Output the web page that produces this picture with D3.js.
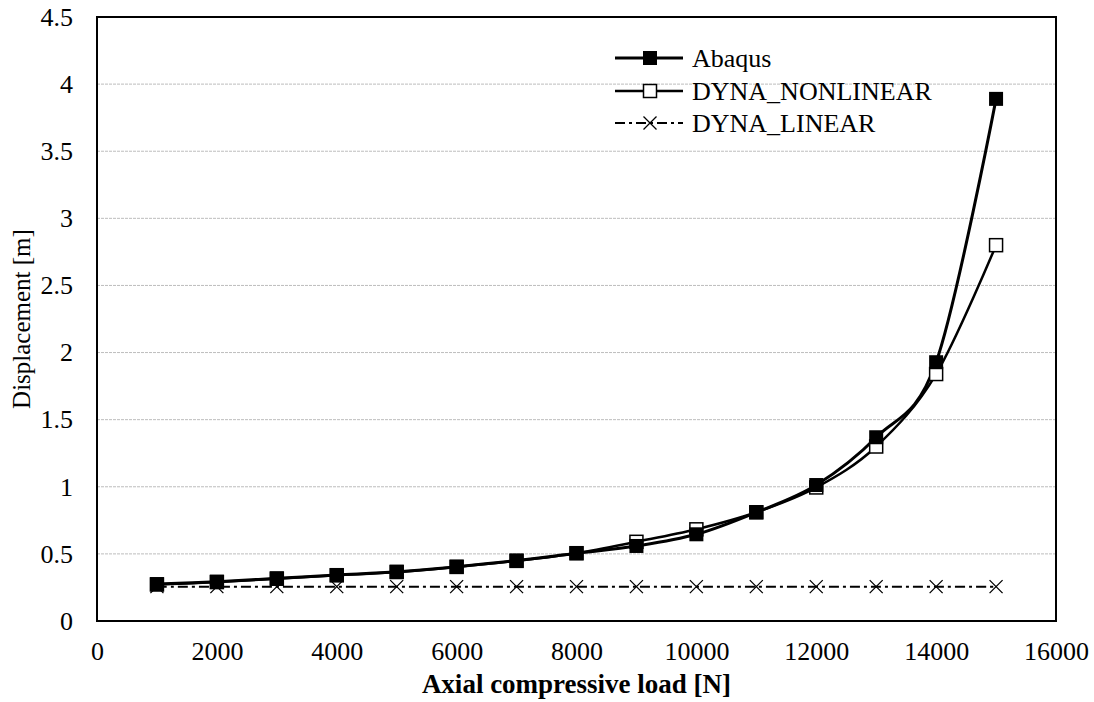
<!DOCTYPE html>
<html lang="en">
<head>
<meta charset="utf-8">
<title>Displacement vs axial load</title>
<script src="https://d3js.org/d3.v7.min.js"></script>
<style>
  body { margin: 0; background: #fff; }
</style>
</head>
<body>
<script>
// data
const loads = [1000, 2000, 3000, 4000, 5000, 6000, 7000, 8000, 9000, 10000, 11000, 12000, 13000, 14000, 15000];
const abaqus = [0.275, 0.293, 0.318, 0.343, 0.367, 0.405, 0.45, 0.505, 0.559, 0.646, 0.81, 1.013, 1.369, 1.928, 3.89];
const dynaNonlinear = [0.272, 0.29, 0.315, 0.34, 0.365, 0.403, 0.448, 0.505, 0.59, 0.683, 0.81, 0.995, 1.30, 1.84, 2.8];
const dynaLinear = [0.256, 0.256, 0.256, 0.256, 0.256, 0.256, 0.256, 0.256, 0.256, 0.256, 0.256, 0.256, 0.256, 0.256, 0.256];
const xTicks = [0, 2000, 4000, 6000, 8000, 10000, 12000, 14000, 16000];
const yTicks = [0, 0.5, 1, 1.5, 2, 2.5, 3, 3.5, 4, 4.5];
const seriesNames = ["Abaqus", "DYNA_NONLINEAR", "DYNA_LINEAR"];

const chartW = 1094, chartH = 702;
const padL = 97, padR = 1056, padT = 17, padB = 621;
const serif = "'Liberation Serif', Tinos, 'Times New Roman', 'DejaVu Serif', serif";

const svg = d3.select("body").append("svg")
  .attr("width", chartW).attr("height", chartH);

const x = d3.scaleLinear().domain([0, 16000]).range([padL, padR]);
const y = d3.scaleLinear().domain([0, 4.5]).range([padB, padT]);

// gridlines
svg.append("g").selectAll("line")
  .data(yTicks.filter(d => d > 0 && d < 4.5))
  .enter().append("line")
  .attr("x1", padL).attr("x2", padR)
  .attr("y1", d => y(d)).attr("y2", d => y(d))
  .attr("stroke", "#bdbdbd").attr("stroke-width", 1)
  .attr("stroke-dasharray", "3,1");

// axes (labels only, no tick marks)
const yAxis = svg.append("g")
  .attr("transform", "translate(" + padL + ",0)")
  .call(d3.axisLeft(y).tickValues(yTicks).tickSize(0).tickPadding(24).tickFormat(d3.format("")));
const xAxis = svg.append("g")
  .attr("transform", "translate(0," + padB + ")")
  .call(d3.axisBottom(x).tickValues(xTicks).tickSize(0).tickPadding(21).tickFormat(d3.format("")));
[yAxis, xAxis].forEach(function(a) {
  a.attr("font-family", null).attr("font-size", null);
  a.select(".domain").remove();
  a.selectAll("text").style("font-size", "26px").style("font-family", serif).attr("fill", "#000");
});

// axis titles
svg.append("text")
  .text("Displacement [m]")
  .attr("transform", "translate(30," + ((padT + padB) / 2) + ") rotate(-90)")
  .attr("text-anchor", "middle")
  .style("font-family", serif)
  .style("font-size", "25px");
svg.append("text")
  .text("Axial compressive load [N]")
  .attr("x", (padL + padR) / 2).attr("y", 693)
  .attr("text-anchor", "middle")
  .style("font-family", serif)
  .style("font-size", "27px")
  .style("font-weight", "bold");

const line = d3.line()
  .x(d => x(d[0])).y(d => y(d[1]))
  .curve(d3.curveCardinal.tension(0));

function pairs(vals) { return loads.map((l, i) => [l, vals[i]]); }

// DYNA_LINEAR
svg.append("path").datum(pairs(dynaLinear))
  .attr("d", line).attr("fill", "none")
  .attr("stroke", "#000").attr("stroke-width", 2)
  .attr("stroke-dasharray", "10,4,3,4");
// DYNA_NONLINEAR
svg.append("path").datum(pairs(dynaNonlinear))
  .attr("d", line).attr("fill", "none")
  .attr("stroke", "#000").attr("stroke-width", 2.5);
// Abaqus
svg.append("path").datum(pairs(abaqus))
  .attr("d", line).attr("fill", "none")
  .attr("stroke", "#000").attr("stroke-width", 3);

function cross(g, cx, cy, s) {
  g.append("path")
    .attr("d", "M" + (cx - s) + "," + (cy - s) + "L" + (cx + s) + "," + (cy + s) +
               "M" + (cx - s) + "," + (cy + s) + "L" + (cx + s) + "," + (cy - s))
    .attr("stroke", "#000").attr("stroke-width", 1.3).attr("fill", "none");
}

const marks = svg.append("g");
loads.forEach(function(l, i) {
  cross(marks, x(l), y(dynaLinear[i]), 6.5);
});
marks.selectAll("rect.open").data(pairs(dynaNonlinear)).enter().append("rect")
  .attr("class", "open")
  .attr("x", d => x(d[0]) - 6.5).attr("y", d => y(d[1]) - 6.5)
  .attr("width", 13).attr("height", 13)
  .attr("fill", "#fff").attr("stroke", "#000").attr("stroke-width", 1.5);
marks.selectAll("rect.filled").data(pairs(abaqus)).enter().append("rect")
  .attr("class", "filled")
  .attr("x", d => x(d[0]) - 7).attr("y", d => y(d[1]) - 7)
  .attr("width", 14).attr("height", 14)
  .attr("fill", "#000");

// plot frame
svg.append("rect")
  .attr("x", padL).attr("y", padT)
  .attr("width", padR - padL).attr("height", padB - padT)
  .attr("fill", "none").attr("stroke", "#000").attr("stroke-width", 2);

// legend
const legend = svg.append("g");
const legRows = [58, 91, 123];
const lx1 = 615, lx2 = 683, lmid = 650;
legRows.forEach(function(ry, i) {
  const ln = legend.append("line")
    .attr("x1", lx1).attr("x2", lx2).attr("y1", ry).attr("y2", ry)
    .attr("stroke", "#000");
  if (i === 0) {
    ln.attr("stroke-width", 3);
    legend.append("rect").attr("x", lmid - 7).attr("y", ry - 7)
      .attr("width", 14).attr("height", 14).attr("fill", "#000");
  } else if (i === 1) {
    ln.attr("stroke-width", 2.5);
    legend.append("rect").attr("x", lmid - 6.5).attr("y", ry - 6.5)
      .attr("width", 13).attr("height", 13)
      .attr("fill", "#fff").attr("stroke", "#000").attr("stroke-width", 1.5);
  } else {
    ln.attr("stroke-width", 2).attr("stroke-dasharray", "10,4,3,4");
    cross(legend, lmid, ry, 6.5);
  }
  legend.append("text")
    .text(seriesNames[i])
    .attr("x", 692).attr("y", ry + 8.5)
    .style("font-family", serif)
    .style("font-size", "26px");
});
</script>
</body>
</html>
